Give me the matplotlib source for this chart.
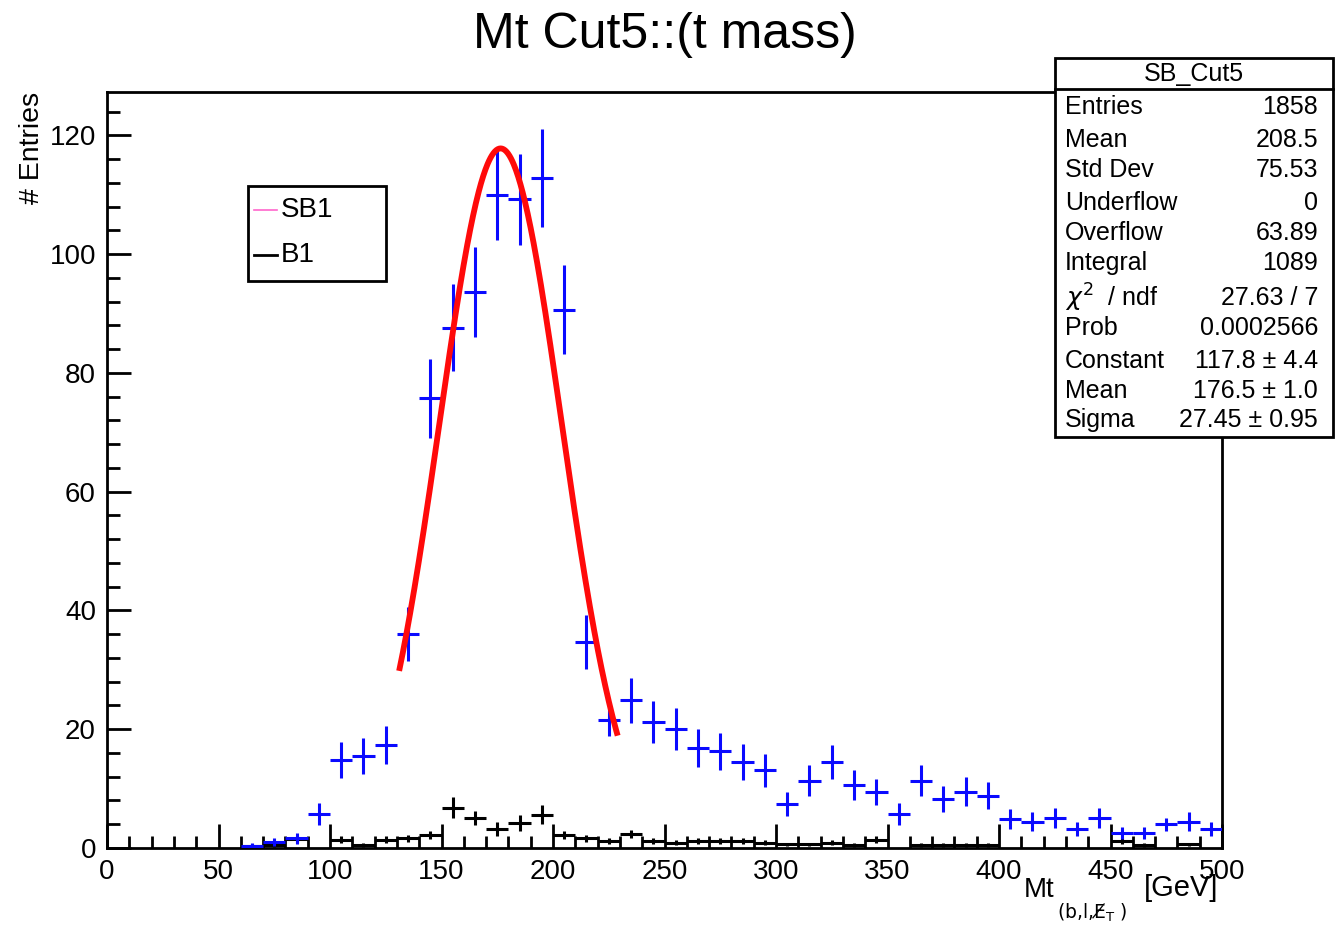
import numpy as np
import matplotlib.pyplot as plt
from matplotlib.patches import Rectangle
from matplotlib.lines import Line2D

plt.rcParams['font.family'] = ['Liberation Sans', 'DejaVu Sans']

# bin centres of the Mt histogram (10 GeV bins, 0-500)
centers = np.arange(5, 500, 10)

# SB1 (signal + background)
sb = [0, 0, 0, 0, 0, 0, 0.4, 1.0, 1.6, 5.7,
      14.8, 15.5, 17.3, 36.0, 75.7, 87.6, 93.6, 110.0, 109.2, 112.8,
      90.6, 34.7, 21.5, 24.9, 21.2, 20.0, 16.8, 16.3, 14.5, 13.1,
      7.4, 11.3, 14.5, 10.6, 9.5, 5.7, 11.3, 8.2, 9.5, 8.8,
      4.9, 4.4, 5.0, 3.2, 5.0, 2.5, 2.5, 4.0, 4.4, 3.2]
sb_err = [0, 0, 0, 0, 0, 0, 0.4, 0.6, 0.9, 1.9,
          3.0, 3.1, 3.2, 4.5, 6.7, 7.3, 7.6, 7.6, 7.6, 8.3,
          7.5, 4.6, 2.7, 3.8, 3.6, 3.5, 3.2, 3.1, 3.0, 2.8,
          2.0, 2.6, 2.9, 2.5, 2.2, 1.8, 2.6, 2.2, 2.4, 2.3,
          1.7, 1.6, 1.7, 1.2, 1.7, 1.0, 1.0, 1.1, 1.6, 1.2]

# B1 (background only)
bkg = [0, 0, 0, 0, 0, 0, 0.3, 0.5, 1.5, 0,
       1.4, 0.5, 1.4, 1.6, 2.2, 6.8, 5.0, 3.2, 4.2, 5.6,
       2.2, 1.6, 1.1, 2.3, 1.2, 0.9, 1.2, 1.2, 1.2, 0.9,
       0.6, 0.6, 0.9, 0.5, 1.4, 0, 0.5, 0.5, 0.5, 0.5,
       0, 0, 0, 0, 0, 1.2, 0.5, 0, 0.6, 0]
bkg_err = [0, 0, 0, 0, 0, 0, 0.3, 0.4, 0.6, 0,
           0.6, 0.4, 0.6, 0.6, 0.7, 1.8, 1.2, 1.2, 1.3, 1.6,
           0.7, 0.6, 0.5, 0.7, 0.5, 0.4, 0.5, 0.5, 0.5, 0.4,
           0.3, 0.3, 0.4, 0.3, 0.6, 0, 0.3, 0.3, 0.3, 0.3,
           0, 0, 0, 0, 0, 0.5, 0.3, 0, 0.3, 0]

# gaussian fit result
fit_const, fit_mean, fit_sigma = 117.8, 176.5, 27.45
fit_lo, fit_hi = 131, 229

stats_labels = ['Entries', 'Mean', 'Std Dev', 'Underflow', 'Overflow', 'Integral',
                r'$\chi^{2}$  / ndf', 'Prob', 'Constant', 'Mean', 'Sigma']
stats_values = ['1858', '208.5', '75.53', '0', '63.89', '1089',
                '27.63 / 7', '0.0002566', '117.8 ± 4.4', '176.5 ± 1.0', '27.45 ± 0.95']

W, H = 1340, 927
fig = plt.figure(figsize=(W / 100, H / 100), dpi=100)
ax = fig.add_axes([107 / W, 1 - 848 / H, (1222 - 107) / W, (848 - 92) / H])

sb = np.array(sb); sb_err = np.array(sb_err)
bkg = np.array(bkg); bkg_err = np.array(bkg_err)
m = sb > 0
ax.errorbar(centers[m], sb[m], xerr=5, yerr=sb_err[m], fmt='none',
            ecolor='#0a0aff', elinewidth=2.2, capsize=0, zorder=3)
m = bkg > 0
ax.errorbar(centers[m], bkg[m], xerr=5, yerr=bkg_err[m], fmt='none',
            ecolor='black', elinewidth=2.2, capsize=0, zorder=2)

xf = np.linspace(fit_lo, fit_hi, 300)
ax.plot(xf, fit_const * np.exp(-0.5 * ((xf - fit_mean) / fit_sigma) ** 2),
        color='#ff0a0a', lw=4.2, solid_capstyle='butt', zorder=4)

ax.set_xlim(0, 500)
ax.set_ylim(0, 127.3)
ax.set_xticks(np.arange(0, 501, 50))
ax.set_xticks(np.arange(0, 501, 10), minor=True)
ax.set_yticks(np.arange(0, 121, 20))
ax.set_yticks(np.arange(0, 127, 4), minor=True)
ax.tick_params(which='both', direction='in', width=2, labelsize=20, pad=8,
               top=False, right=False)
ax.tick_params(which='major', length=17)
ax.tick_params(which='minor', length=9)
for s in ax.spines.values():
    s.set_linewidth(2)

fig.text(0.496, 1 - 35 / H, 'Mt Cut5::(t mass)', ha='center', va='center', fontsize=36)
fig.text(32 / W, 1 - 92 / H, '# Entries', rotation=90, ha='center', va='top', fontsize=20.5)
fig.text(1024 / W, 1 - 890 / H, 'Mt', ha='left', va='center', fontsize=20)
fig.text(1057 / W, 1 - 913 / H, '(b,l,E\u0338$_{\\mathregular{T}}$ )', ha='left', va='center',
         fontsize=13.5, family=['DejaVu Sans'])
fig.text(1144 / W, 1 - 888 / H, '[GeV]', ha='left', va='center', fontsize=21)

# legend box
fig.patches.append(Rectangle((248 / W, 1 - 281 / H), 138 / W, 95 / H, transform=fig.transFigure,
                             fill=True, facecolor='white', edgecolor='black', lw=2))
fig.lines.append(Line2D([254 / W, 277 / W], [1 - 210 / H] * 2, transform=fig.transFigure,
                        color='#ff66cc', lw=1.2))
fig.lines.append(Line2D([254 / W, 277 / W], [1 - 255 / H] * 2, transform=fig.transFigure,
                        color='black', lw=2))
fig.text(281 / W, 1 - 210 / H, 'SB1', ha='left', va='center', fontsize=20)
fig.text(281 / W, 1 - 255 / H, 'B1', ha='left', va='center', fontsize=20)

# statistics box
fig.patches.append(Rectangle((1055 / W, 1 - 437 / H), 278 / W, 379 / H, transform=fig.transFigure,
                             fill=True, facecolor='white', edgecolor='black', lw=2, zorder=5))
fig.lines.append(Line2D([1055 / W, 1333 / W], [1 - 89 / H] * 2, transform=fig.transFigure,
                        color='black', lw=2, zorder=6))
fig.text(1194 / W, 1 - 74 / H, 'SB_Cut5', ha='center', va='center', fontsize=18, zorder=7)
rows_y = [107, 140, 170, 203, 233, 263, 298, 328, 361, 391, 420]
for lab, val, y in zip(stats_labels, stats_values, rows_y):
    fig.text(1065 / W, 1 - y / H, lab, ha='left', va='center', fontsize=18, zorder=7)
    fig.text(1318 / W, 1 - y / H, val, ha='right', va='center', fontsize=18, zorder=7)

fig.savefig('out.png', dpi=100)
